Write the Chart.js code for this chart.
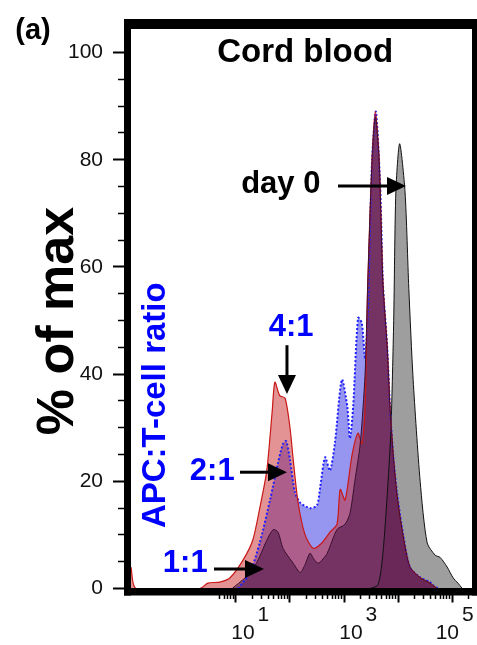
<!DOCTYPE html>
<html>
<head>
<meta charset="utf-8">
<script src="https://cdn.jsdelivr.net/npm/chart.js@4.4.1/dist/chart.umd.min.js"></script>
<style>
  html, body { margin: 0; padding: 0; background: #fff; }
  #wrap { width: 477px; height: 645px; position: relative; }
</style>
</head>
<body>
<div id="wrap"><canvas id="c" width="477" height="645"></canvas></div>
<script>
// ---- DATA (x positions in log10 units of the fluorescence channel, y in % of max) ----
const day0LogX   = [3.39, 3.48, 3.63, 3.72, 3.81, 3.87, 3.92, 3.96, 4.03, 4.13, 4.20, 4.28, 4.41, 4.54, 4.69, 4.78, 4.91, 5.02, 5.11, 5.19];
const day0Pct    = [0,    0,    0.7,  6.5,  19,   30,   50,   74,   83,   74,   56,   39,   20,   8.5,  6.2,  5.8,  4,    2,    1,    0];

const ratio41LogX = [-0.944, -0.85, 0.33, 0.48, 0.70, 0.89, 1.13, 1.31, 1.44, 1.57, 1.67, 1.72, 1.81, 1.91, 2.00, 2.06, 2.15, 2.28, 2.43, 2.59, 2.74, 2.87, 2.93, 3.02, 3.15, 3.26, 3.33, 3.39, 3.44, 3.52, 3.58, 3.65, 3.72, 3.80, 3.85, 3.91, 3.98, 4.09, 4.22, 4.41, 4.59, 4.72];
const ratio41Pct  = [4,      0,     0,    1,    1.2,  2,    5.3,  9,    15,   22,   33,   38.5, 36,   35.5, 30,   24,   16,   10,   7.5,  8.5,  10.5, 12,   18.5, 16.5, 25,   29,   27,   34,   57,   80,   89,   80,   57,   45,   34,   25,   17.5, 10,   4,    2,    1,    0];

const ratio21LogX = [1.04, 1.26, 1.44, 1.63, 1.78, 1.87, 1.93, 2.00, 2.09, 2.19, 2.37, 2.50, 2.56, 2.65, 2.74, 2.83, 2.96, 3.06, 3.11, 3.17, 3.26, 3.33, 3.39, 3.44, 3.52, 3.59, 3.67, 3.72, 3.80, 3.85, 3.91, 3.98, 4.09, 4.22, 4.41, 4.59, 4.65, 4.74];
const ratio21Pct  = [0,    3,    8.5,  16.5, 23.5, 27,   27.5, 24,   18,   16,   15,   15.5, 19,   24.5, 22,   27,   39,   34,   28,   34,   50.5, 49.5, 43,   51,   80,   89,   75,   57,   45,   34,   25,   18,   10.4, 4,    2.1,  1.2,  0.6,  0];

const ratio11LogX = [0.93, 1.17, 1.31, 1.44, 1.57, 1.69, 1.78, 1.87, 2.06, 2.19, 2.28, 2.37, 2.44, 2.52, 2.61, 2.69, 2.87, 3.02, 3.11, 3.20, 3.30, 3.39, 3.44, 3.52, 3.58, 3.65, 3.72, 3.80, 3.85, 3.91, 3.98, 4.09, 4.22, 4.41, 4.59, 4.72];
const ratio11Pct  = [0,    2,    3.5,  6,    9,    11,   10.5, 7.5,  4.7,  3,    4.5,  6.6,  5.5,  4.7,  5.5,  6.6,  11,   12,   14,   20,   27,   40,   57,   80,   88,   80,   57,   45,   34,   25,   17.5, 10,   4,    2,    1,    0];

const xTickExponents = [1, 3, 5];
const yTickLabels    = [0, 20, 40, 60, 80, 100];

// ---- helpers ----
const toPoints = (lx, py) => lx.map((l, i) => ({ x: Math.pow(10, l), y: py[i] }));
const FONT = "'Liberation Sans', Arial, sans-serif";
const X_MIN_LOG = -0.944, X_MAX_LOG = 5.37, Y_MAX = 104.4;

// minor/major tick positions of the log axis (m x 10^n)
const xTickValues = [];
for (let e = 0; e <= 5; e++) {
  for (let m = 1; m <= 9; m++) {
    const v = m * Math.pow(10, e);
    if (v >= 5 && v <= 200000) xTickValues.push(v);
  }
}
const yTickValues = [];
for (let v = 0; v <= 100; v += 5) yTickValues.push(v);

// ---- annotations (data coordinates: [log10 x, % of max]) ----
const inChartTexts = [
  { text: 'Cord blood', at: [2.28, 100.0], color: '#000', size: 33 },
  { text: 'day 0',      at: [1.83, 75.4],  color: '#000', size: 31 },
  { text: '4:1',        at: [2.02, 48.8],  color: '#0000ff', size: 31 },
  { text: '2:1',        at: [0.56, 21.9],  color: '#0000ff', size: 31 },
  { text: '1:1',        at: [0.06, 4.6],   color: '#0000ff', size: 31 },
  { text: 'APC:T-cell ratio', at: [-0.48, 34.2], color: '#0000ff', size: 33, rotate: true }
];
const arrows = [
  { from: [2.889, 75.1], to: [4.148, 75.1] },
  { from: [1.944, 45.4], to: [1.944, 36.3] },
  { from: [1.074, 21.7], to: [1.944, 21.7] },
  { from: [0.593, 3.64], to: [1.519, 3.64] }
];

const framePlugin = {
  id: 'frame',
  afterDatasetsDraw(chart) {
    const { ctx, chartArea: a } = chart;
    ctx.save();
    ctx.fillStyle = '#000';
    ctx.fillRect(a.left - 7, a.top - 10, a.right - a.left + 20, 10);      // top
    ctx.fillRect(a.left - 7, a.top - 10, 7, a.bottom - a.top + 17);       // left
    ctx.fillRect(a.left - 7, a.bottom - 0.5, a.right - a.left + 20, 7.5); // bottom
    ctx.fillRect(a.right, a.top - 10, 12, a.bottom - a.top + 17);         // right
    ctx.restore();
  }
};

const annotationPlugin = {
  id: 'annot',
  afterDraw(chart) {
    const { ctx } = chart;
    const xs = chart.scales.x, ys = chart.scales.y;
    const px = l => xs.getPixelForValue(Math.pow(10, l));
    const py = v => ys.getPixelForValue(v);
    ctx.save();
    ctx.textAlign = 'center';
    ctx.textBaseline = 'middle';
    for (const t of inChartTexts) {
      ctx.font = `bold ${t.size}px ${FONT}`;
      ctx.fillStyle = t.color;
      const x = px(t.at[0]), y = py(t.at[1]);
      if (t.rotate) {
        ctx.save(); ctx.translate(x, y); ctx.rotate(-Math.PI / 2);
        ctx.fillText(t.text, 0, 0); ctx.restore();
      } else {
        ctx.fillText(t.text, x, y);
      }
    }
    // texts outside the plot frame
    ctx.fillStyle = '#000';
    ctx.font = `bold 29px ${FONT}`;
    ctx.fillText('(a)', 33, 31);
    ctx.save(); ctx.translate(59, 321); ctx.rotate(-Math.PI / 2);
    ctx.font = `bold 52px ${FONT}`;
    ctx.fillText('% of max', 0, 0); ctx.restore();

    // arrows
    ctx.strokeStyle = '#000'; ctx.fillStyle = '#000'; ctx.lineWidth = 3;
    for (const ar of arrows) {
      const x1 = px(ar.from[0]), y1 = py(ar.from[1]);
      const x2 = px(ar.to[0]),   y2 = py(ar.to[1]);
      const len = Math.hypot(x2 - x1, y2 - y1);
      const ux = (x2 - x1) / len, uy = (y2 - y1) / len;
      const hl = 19, hw = 9;
      ctx.beginPath();
      ctx.moveTo(x1, y1);
      ctx.lineTo(x2 - ux * (hl - 2), y2 - uy * (hl - 2));
      ctx.stroke();
      ctx.beginPath();
      ctx.moveTo(x2, y2);
      ctx.lineTo(x2 - ux * hl - uy * hw, y2 - uy * hl + ux * hw);
      ctx.lineTo(x2 - ux * hl + uy * hw, y2 - uy * hl - ux * hw);
      ctx.closePath();
      ctx.fill();
    }
    ctx.restore();
  }
};

function isMajorX(v) {
  const l = Math.log10(v);
  return Math.abs(l - Math.round(l)) < 1e-9;
}

const chart = new Chart(document.getElementById('c'), {
  type: 'line',
  data: {
    datasets: [
      { label: '1:1', data: toPoints(ratio11LogX, ratio11Pct), order: 1,
        backgroundColor: 'rgba(60,10,60,0.5)', borderColor: '#3a1030', borderWidth: 1, fill: 'origin' },
      { label: '4:1', data: toPoints(ratio41LogX, ratio41Pct), order: 2,
        backgroundColor: 'rgba(200,40,40,0.5)', borderColor: '#c81818', borderWidth: 1.2, fill: 'origin' },
      { label: '2:1', data: toPoints(ratio21LogX, ratio21Pct), order: 3,
        backgroundColor: 'rgba(45,45,225,0.5)', borderColor: '#2020ff', borderWidth: 2, borderDash: [2, 2], fill: 'origin' },
      { label: 'day 0', data: toPoints(day0LogX, day0Pct), order: 4,
        backgroundColor: 'rgb(158,158,158)', borderColor: '#111', borderWidth: 1, fill: 'origin' }
    ]
  },
  options: {
    responsive: false,
    animation: false,
    layout: { padding: { left: 0, right: 5, top: 29, bottom: 0 } },
    elements: { point: { radius: 0 }, line: { tension: 0.25 } },
    plugins: {
      legend: { display: false },
      tooltip: { enabled: false },
      filler: { drawTime: 'beforeDatasetsDraw' }
    },
    scales: {
      x: {
        type: 'logarithmic',
        min: Math.pow(10, X_MIN_LOG),
        max: Math.pow(10, X_MAX_LOG),
        border: { display: false },
        grid: {
          drawOnChartArea: false, drawTicks: true, tickLength: 14,
          tickColor: '#000',
          tickWidth: c => (isMajorX(c.tick.value) ? 2 : 1.5),
          tickBorderDash: c => (isMajorX(c.tick.value) ? [] : [10, 100])
        },
        afterBuildTicks: s => { s.ticks = xTickValues.map(v => ({ value: v })); },
        afterFit: s => { s.height = 56.5; },
        ticks: {
          autoSkip: false, maxRotation: 0, minRotation: 0, padding: 3, labelOffset: 7,
          color: '#111',
          font: { family: FONT, size: 21, lineHeight: '18.5px' },
          callback: v => {
            const e = Math.round(Math.log10(v));
            if (!isMajorX(v) || !xTickExponents.includes(e)) return '';
            // last label is pulled left so it fits inside the picture
            if (e === xTickExponents[xTickExponents.length - 1]) {
              return [' '.repeat(3) + e, '10' + ' '.repeat(4)];
            }
            return [' '.repeat(7) + e, '10'];
          }
        }
      },
      y: {
        type: 'linear',
        min: 0, max: Y_MAX,
        border: { display: false },
        grid: {
          drawOnChartArea: false, drawTicks: true, tickLength: 18,
          tickColor: '#000',
          tickWidth: c => (c.tick.value % 20 === 0 ? 2 : 1.5),
          tickBorderDash: c => (c.tick.value % 20 === 0 ? [] : [0, 5, 13, 100])
        },
        afterBuildTicks: s => { s.ticks = yTickValues.map(v => ({ value: v })); },
        afterFit: s => { s.width = 131; },
        ticks: {
          autoSkip: false, padding: 10, color: '#111',
          font: { family: FONT, size: 21 },
          callback: v => (yTickLabels.includes(v) ? String(v) : '')
        }
      }
    }
  },
  plugins: [framePlugin, annotationPlugin]
});
</script>
</body>
</html>
